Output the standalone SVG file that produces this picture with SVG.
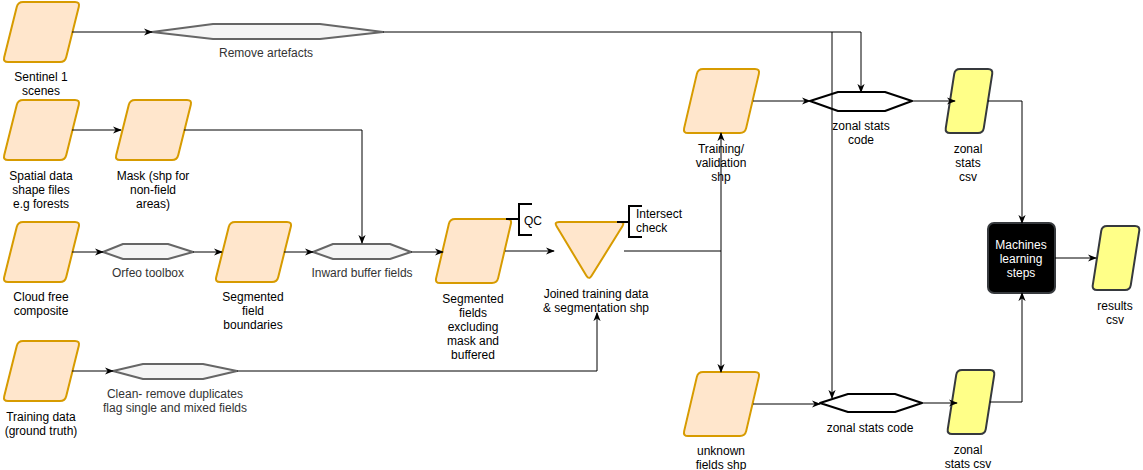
<svg xmlns="http://www.w3.org/2000/svg" xmlns:xlink="http://www.w3.org/1999/xlink" width="1143" height="470" viewBox="0 0 1143 470">
<style>
text{font-family:"Liberation Sans",Arial,sans-serif;font-size:12px;text-anchor:middle;fill:#000}
.g{fill:#333}
.w{fill:#fff}
.l{text-anchor:start}
.o{fill:#ffe6cc;stroke:#d79b00;stroke-width:2}
.y{fill:#ffff88;stroke:#36393d;stroke-width:2}
.gh{fill:#f5f5f5;stroke:#666;stroke-width:2;stroke-linejoin:round}
.bh{fill:#fff;stroke:#000;stroke-width:2;stroke-linejoin:round}
.c{fill:none;stroke:#000;stroke-width:1}
.a{marker-end:url(#arr)}
.br{fill:none;stroke:#000;stroke-width:2}
</style>
<defs>
<marker id="arr" viewBox="0 0 10 10" refX="9" refY="5" markerWidth="9" markerHeight="9" markerUnits="userSpaceOnUse" orient="auto"><path d="M0,1 L10,5 L0,9 L3,5 Z" fill="#000"/></marker>
<path id="pA" d="M20,0 L72,0 Q77,0 75.8,4.85 L63.2,55.15 Q62,60 57,60 L5,60 Q0,60 1.2,55.15 L13.8,4.85 Q15,0 20,0 Z"/>
<path id="pB" d="M20,0 L72,0 Q77,0 75.86,4.87 L63.14,59.13 Q62,64 57,64 L5,64 Q0,64 1.14,59.13 L13.86,4.87 Q15,0 20,0 Z"/>
<path id="pY" d="M15,0 L43,0 Q48,0 47.23,4.94 L38.77,59.06 Q38,64 33,64 L5,64 Q0,64 0.77,59.06 L9.23,4.94 Q10,0 15,0 Z"/>
</defs>

<g id="sentinel"><use xlink:href="#pA" x="3" y="2" class="o"/><text x="41" y="81">Sentinel 1</text><text x="41" y="95">scenes</text></g>
<g id="remove-artefacts"><polygon class="gh" points="152,32 213,24 320,24 383,32 320,39 213,39"/><text class="g" x="266" y="57">Remove artefacts</text></g>
<g id="spatial"><use xlink:href="#pA" x="3" y="100" class="o"/><text x="41" y="180">Spatial data</text><text x="41" y="194">shape files</text><text x="41" y="208">e.g forests</text></g>
<g id="mask"><use xlink:href="#pA" x="115" y="100" class="o"/><text x="153" y="180">Mask (shp for</text><text x="153" y="194">non-field</text><text x="153" y="208">areas)</text></g>
<g id="cloud"><use xlink:href="#pA" x="3" y="222" class="o"/><text x="41" y="301">Cloud free</text><text x="41" y="315">composite</text></g>
<g id="orfeo"><polygon class="gh" points="103,252 123,244 168,244 193,252 168,259 123,259"/><text class="g" x="148" y="277">Orfeo toolbox</text></g>
<g id="seg-boundaries"><use xlink:href="#pA" x="215" y="222" class="o"/><text x="253" y="301">Segmented</text><text x="253" y="315">field</text><text x="253" y="329">boundaries</text></g>
<g id="inward"><polygon class="gh" points="313,252 333,244 390,244 411,252 390,259 333,259"/><text class="g" x="362" y="277">Inward buffer fields</text></g>
<g id="seg-excl"><use xlink:href="#pB" x="435" y="219" class="o"/><text x="473" y="303">Segmented</text><text x="473" y="317">fields</text><text x="473" y="331">excluding</text><text x="473" y="345">mask and</text><text x="473" y="359">buffered</text>
<path class="br" d="M506,219 L519,219 M532,204 L519,204 L519,235 L532,235"/><text class="l" x="524" y="225">QC</text></g>
<g id="joined"><path class="o" d="M559,222 L620,222 Q625,222 622.4,226.2 L591.6,275.8 Q589,280 586.4,275.7 L556.6,226.3 Q554,222 559,222 Z"/><text x="596" y="298">Joined training data</text><text x="596" y="312">&amp; segmentation shp</text>
<path class="br" d="M617,222 L629,222 M642,206 L629,206 L629,237 L642,237"/><text class="l" x="636" y="218">Intersect</text><text class="l" x="636" y="232">check</text></g>
<g id="training-data"><use xlink:href="#pA" x="3" y="341" class="o"/><text x="41" y="421">Training data</text><text x="41" y="435">(ground truth)</text></g>
<g id="clean"><polygon class="gh" points="113,371 143,364 203,364 237,371 203,379 143,379"/><text class="g" x="175" y="398">Clean- remove duplicates</text><text class="g" x="175" y="412">flag single and mixed fields</text></g>
<g id="train-val"><use xlink:href="#pB" x="683" y="69" class="o"/><text x="721" y="153">Training/</text><text x="721" y="167">validation</text><text x="721" y="181">shp</text></g>
<g id="unknown"><use xlink:href="#pB" x="683" y="372" class="o"/><text x="721" y="455">unknown</text><text x="721" y="469">fields shp</text></g>
<g id="zonal-code-1"><polygon class="bh" points="810,101 838,92 885,92 912,101 885,111 838,111"/><text x="861" y="130">zonal stats</text><text x="861" y="144">code</text></g>
<g id="zonal-code-2"><polygon class="bh" points="820,403 848,394 895,394 922,403 895,412 848,412"/><text x="870" y="432">zonal stats code</text></g>
<g id="zonal-csv-1"><use xlink:href="#pY" x="945" y="69" class="y"/><text x="968" y="153">zonal</text><text x="968" y="167">stats</text><text x="968" y="181">csv</text></g>
<g id="zonal-csv-2"><use xlink:href="#pY" x="947" y="370" class="y"/><text x="968" y="454">zonal</text><text x="968" y="468">stats csv</text></g>
<g id="ml"><rect x="988" y="223" width="67" height="70" rx="6" fill="#000" stroke="#36393d" stroke-width="2"/><text class="w" x="1021" y="249">Machines</text><text class="w" x="1021" y="263">learning</text><text class="w" x="1021" y="277">steps</text></g>
<g id="results"><use xlink:href="#pY" x="1092" y="226" class="y"/><text x="1115" y="310">results</text><text x="1115" y="324">csv</text></g>

<g id="connectors">
<path class="c a" d="M72,32 L152,32"/>
<path class="c a" d="M383,32 L861,32 L861,92"/>
<path class="c a" d="M832,32 L832,398"/>
<path class="c a" d="M72,130 L121,130"/>
<path class="c a" d="M184,130 L362,130 L362,243"/>
<path class="c a" d="M72,252 L103,252"/>
<path class="c a" d="M193,252 L222,252"/>
<path class="c a" d="M284,252 L313,252"/>
<path class="c a" d="M411,252 L443,252"/>
<path class="c a" d="M505,251 L554,251"/>
<path class="c a" d="M72,371 L113,371"/>
<path class="c a" d="M237,371 L597,371 L597,313"/>
<path class="c a" d="M624,251 L721,251 L721,133"/>
<path class="c a" d="M721,251 L721,372"/>
<path class="c a" d="M753,101 L810,101"/>
<path class="c a" d="M912,101 L955,101"/>
<path class="c a" d="M988,101 L1022,101 L1022,223"/>
<path class="c a" d="M753,404 L820,404"/>
<path class="c a" d="M922,403 L957,403"/>
<path class="c a" d="M990,402 L1022,402 L1022,293"/>
<path class="c a" d="M1055,258 L1096,258"/>
</g>
</svg>
